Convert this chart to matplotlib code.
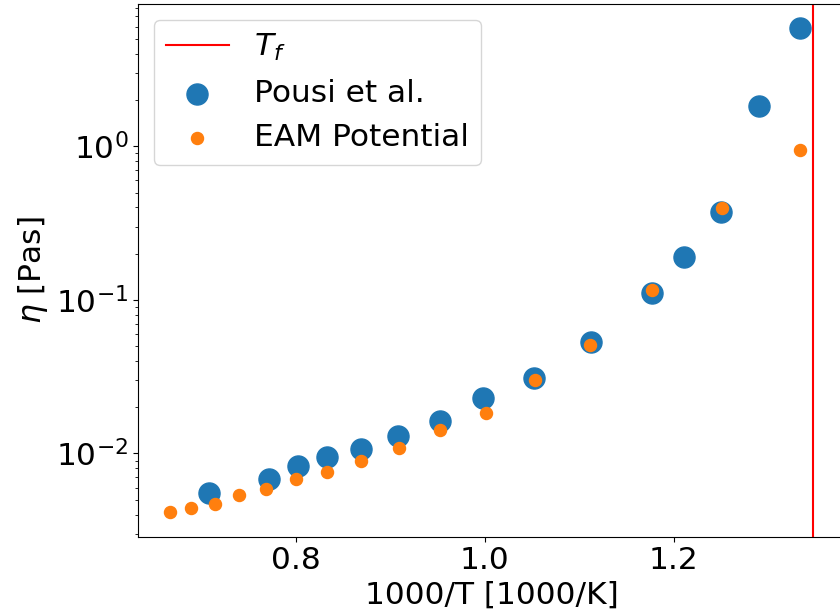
import matplotlib
matplotlib.use("Agg")
import matplotlib.pyplot as plt
from matplotlib.ticker import MultipleLocator

# Pousi et al. (reference data)
pousi_x = [0.708, 0.771, 0.802, 0.833, 0.869, 0.908, 0.952, 0.998, 1.052,
           1.112, 1.1765, 1.211, 1.250, 1.290, 1.3335]
pousi_eta = [0.00552, 0.00684, 0.00832, 0.00947, 0.01067, 0.01297, 0.01632,
             0.0229, 0.0308, 0.0533, 0.1116, 0.1897, 0.3725, 1.83, 5.87]

# EAM potential results
eam_x = [0.6668, 0.6891, 0.7146, 0.740, 0.7683, 0.7998, 0.833, 0.8688,
         0.9094, 0.9526, 1.001, 1.053, 1.1117, 1.1765, 1.251, 1.3335]
eam_eta = [0.00413, 0.00441, 0.00468, 0.00540, 0.00589, 0.00684, 0.00760,
           0.00900, 0.01088, 0.01432, 0.01847, 0.0302, 0.0512, 0.1161,
           0.397, 0.946]

# freezing temperature (1000/T)
t_f = 1.3476

plt.rcParams["font.size"] = 22.5

fig = plt.figure(figsize=(8.4, 6.14), dpi=100)
ax = fig.add_axes([0.1643, 0.1259, 0.842, 0.8676])

ax.axvline(t_f, color="r", label="$T_f$")
ax.scatter(pousi_x, pousi_eta, s=230, label="Pousi et al.")
ax.scatter(eam_x, eam_eta, s=75, label="EAM Potential")

ax.set_yscale("log")
ax.xaxis.set_major_locator(MultipleLocator(0.2))
ax.set_xlabel("1000/T [1000/K]")
ax.set_ylabel(r"$\eta$ [Pas]")
ax.legend(loc="upper left")

fig.savefig("out.png", dpi=100)
